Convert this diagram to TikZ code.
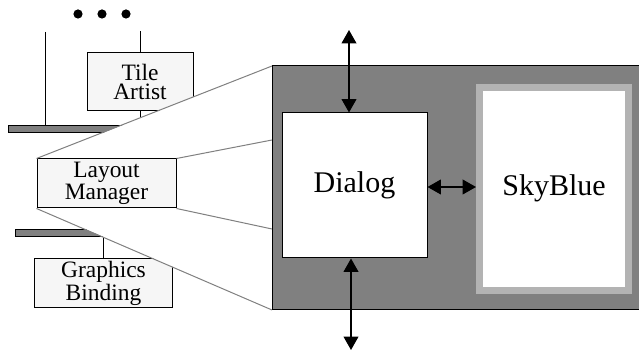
\documentclass[tikz,border=0pt]{standalone}
\usepackage{fontspec}
\setmainfont{Liberation Serif}
\usetikzlibrary{arrows.meta}

\tikzset{every picture/.style={line width=0.75pt}}
\tikzset{
  box/.style={draw=black, fill={rgb,255:red,246;green,246;blue,246}, inner sep=0pt,
    minimum width=104pt, minimum height=36.75pt, align=center,
    font=\fontsize{17.6}{14.4}\selectfont},
  bar/.style={draw=black, fill={rgb,255:red,128;green,128;blue,128}},
  zoomline/.style={draw={rgb,255:red,128;green,128;blue,128}},
  twoway/.style={line width=1.2pt, {Triangle[width=11pt,length=10pt]}-{Triangle[width=11pt,length=10pt]}},
}

\begin{document}
\begin{tikzpicture}[x=0.75pt,y=0.75pt,yscale=-1,xscale=1]
		\useasboundingbox (0,0) rectangle (639,352);

		%Shape: Dots
		\foreach \dx in {78,102,126}
			\fill (\dx,14) circle (4.6);

		%Shape: Bars
		\draw [bar] (8,126) rectangle (200,133);
		\draw [bar] (15,230) rectangle (200,237);

		% Text Node
		\node [box, minimum width=79.5pt, minimum height=43.5pt] (tile) at (140,82) {Tile\\Artist};
		% Text Node
		\node [box] (graphics) at (103.5,283.5) {Graphics\\Binding};

		%Straight Lines
		\coordinate (leftTop) at (45,32);
		\draw (leftTop) -- (leftTop |- 0,126);
		\draw (tile.north) -- ++(0,-21);
		\draw (tile.south) -- ++(0,15);
		\draw (graphics.north) -- ++(0,-22);

		%Shape: Zoom
		\coordinate (z1) at (272,66);
		\coordinate (z2) at (272,140);
		\coordinate (z3) at (272,229);
		\coordinate (z4) at (272,310);
		\path [fill=white] (37,159) -- (z1) -- (z4) -- (37,208) -- cycle;

		% Text Node
		\node [box, minimum width=104.25pt] (layout) at (106.5,183.5) {Layout\\Manager};
		\draw [zoomline] (layout.north west) -- (z1);
		\draw [zoomline] (layout.north east) -- (z2);
		\draw [zoomline] (layout.south east) -- (z3);
		\draw [zoomline] (layout.south west) -- (z4);

		%Shape: Panel
		\draw [bar] (z1) rectangle (645,310);

		% Text Node
		\node [draw=black, fill=white, minimum width=108.75pt, minimum height=108.75pt,
			font=\fontsize{22.5}{27}\selectfont] (dialog) at (354.5,185.5) {Dialog};
		% Text Node
		\node [draw={rgb,255:red,179;green,179;blue,179}, line width=5.25pt, fill=white,
			minimum width=111.75pt, minimum height=151.9pt,
			font=\fontsize{22.5}{27}\selectfont] (sky) at (554,188.75) {SkyBlue};

		%Arrows
		\coordinate (up) at (349,30);
		\coordinate (down) at (351,350);
		\draw [twoway] (up) -- (up |- dialog.north);
		\draw [twoway] (down |- dialog.south) -- (down);
		\draw [twoway] (dialog.east |- 0,187) -- (sky.west |- 0,187);

	\end{tikzpicture}
\end{document}
